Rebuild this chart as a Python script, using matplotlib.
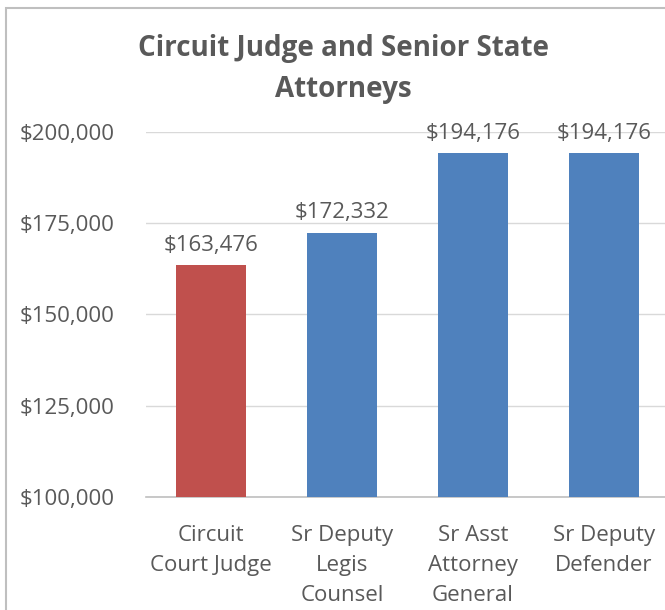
import matplotlib.pyplot as plt
from matplotlib.patches import Rectangle
from matplotlib.ticker import FuncFormatter

# data
categories = ["Circuit\nCourt Judge", "Sr Deputy\nLegis\nCounsel",
              "Sr Asst\nAttorney\nGeneral", "Sr Deputy\nDefender"]
salaries = [163476, 172332, 194176, 194176]
bar_colors = ["#C0504D", "#4F81BD", "#4F81BD", "#4F81BD"]
y_ticks = [100000, 125000, 150000, 175000, 200000]

plt.rcParams['font.family'] = ['Open Sans', 'DejaVu Sans']
text_color = "#595959"

fig = plt.figure(figsize=(6.65, 6.10), dpi=100)

# chart border (cropped on right and bottom)
fig.patches.append(Rectangle((6 / 665, -0.1), 1.2, (610 - 8) / 610 + 0.1,
                             transform=fig.transFigure, fill=False,
                             edgecolor="#BFBFBF", linewidth=1.5))

ax = fig.add_axes([145.5 / 665, 113 / 610, 524 / 665, 365 / 610])
x = range(len(categories))
bars = ax.bar(x, salaries, width=0.53, color=bar_colors, zorder=3)

ax.set_xlim(-0.5, 3.5)
ax.set_ylim(100000, 200000)
ax.set_yticks(y_ticks)
ax.yaxis.set_major_formatter(FuncFormatter(lambda v, p: f"${v:,.0f}"))
ax.set_xticks(list(x))
ax.set_xticklabels(categories, linespacing=1.58)

ax.tick_params(axis='y', length=0, pad=0, labelsize=16, labelcolor=text_color)
ax.tick_params(axis='x', length=0, pad=20, labelsize=16, labelcolor=text_color)
for lbl in ax.get_yticklabels():
    lbl.set_horizontalalignment('left')
    lbl.set_x(-126 / 524)

ax.grid(axis='y', color="#D9D9D9", linewidth=1, zorder=0)
for side in ['top', 'right', 'left']:
    ax.spines[side].set_visible(False)
ax.spines['bottom'].set_color("#BFBFBF")
ax.spines['bottom'].set_linewidth(1.2)

for xi, v in zip(x, salaries):
    ax.annotate(f"${v:,}", (xi, v), xytext=(0, 7), textcoords='offset points',
                ha='center', va='bottom', fontsize=16, color=text_color,
                annotation_clip=False)

fig.text(343 / 665, (610 - 69) / 610, "Circuit Judge and Senior State\nAttorneys",
         ha='center', va='center', fontsize=20, fontweight='bold',
         color=text_color, linespacing=1.52)

fig.savefig("out.png", dpi=100)
